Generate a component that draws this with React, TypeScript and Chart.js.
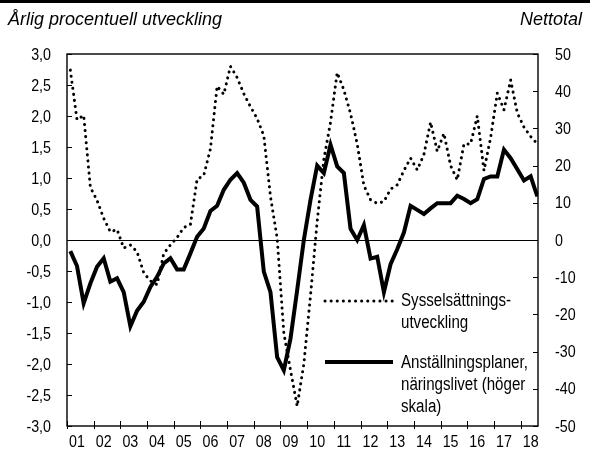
import React, { useEffect, useRef } from 'react';
import { Chart, registerables } from 'chart.js';

Chart.register(...registerables);

const yearLabels = ['01', '02', '03', '04', '05', '06', '07', '08', '09', '10', '11', '12', '13', '14', '15', '16', '17', '18'];
const firstYear = 2001;

// Sysselsättningsutveckling, årlig procentuell utveckling (vänster skala), kvartal 2001K1–2018K3
const employmentGrowth = [
  2.74, 1.94, 2.01, 0.85,
  0.64, 0.35, 0.13, 0.17,
  -0.13, -0.08, -0.19, -0.53,
  -0.66, -0.72, -0.22, -0.08,
  0.04, 0.2, 0.25, 0.98,
  1.04, 1.47, 2.48, 2.35,
  2.8, 2.62, 2.36, 2.15,
  1.96, 1.68, 0.7, 0.03,
  -1.5, -2.1, -2.68, -2.0,
  -0.9, 0.3, 1.3, 1.9,
  2.7, 2.42, 2.04, 1.55,
  0.88, 0.65, 0.59, 0.62,
  0.82, 0.89, 1.12, 1.32,
  1.13, 1.38, 1.9, 1.43,
  1.72, 1.2, 0.97, 1.55,
  1.55, 2.0, 1.12, 1.65,
  2.37, 2.1, 2.58, 2.05,
  1.82, 1.67, 1.55,
];

// Anställningsplaner, näringslivet, nettotal (höger skala)
const hiringPlans = [
  -3, -7, -17, -11.7,
  -7.2, -4.9, -11.2, -10.3,
  -14, -23.2, -19, -16.6,
  -12.6, -9.9, -6.3, -4.9,
  -7.9, -7.9, -3.6, 0.9,
  3.1, 7.8, 9.2, 13.5,
  16.2, 18, 15.4, 10.8,
  9.0, -8.5, -14, -31.5,
  -35, -26.5, -13.5, 0,
  10.8, 20, 18, 25.6,
  19.8, 18, 3, 0,
  4, -5, -4.5, -14,
  -6.5, -2.5, 2, 9.2,
  8.1, 7, 8.5, 9.9,
  9.9, 9.9, 11.9, 11,
  9.9, 11, 16.4, 17.1,
  17.1, 24.3, 22, 19,
  16, 17.1, 11.7,
];

const leftTitle = 'Årlig procentuell utveckling';
const rightTitle = 'Nettotal';
const employmentLegend = ['Sysselsättnings-', 'utveckling'];
const hiringLegend = ['Anställningsplaner,', 'näringslivet (höger', 'skala)'];

const toPoints = (vals: number[]) => vals.map((v, i) => ({ x: firstYear + 0.125 + i * 0.25, y: v }));

const SANS = '"Liberation Sans", Arial, sans-serif';
const NARROW = 0.84;

function narrowText(ctx: CanvasRenderingContext2D, s: string, x: number, y: number) {
  ctx.save();
  ctx.translate(x, y);
  ctx.scale(NARROW, 1);
  ctx.fillText(s, 0, 0);
  ctx.restore();
}

const decorPlugin = {
  id: 'decor',
  beforeDatasetsDraw(chart: any) {
    const { ctx, chartArea: a, scales } = chart;
    const y0 = scales.y.getPixelForValue(0);
    ctx.save();
    ctx.strokeStyle = '#000';
    ctx.lineWidth = 1;
    ctx.beginPath();
    ctx.moveTo(a.left, Math.round(y0) + 0.5);
    ctx.lineTo(a.right, Math.round(y0) + 0.5);
    ctx.stroke();
    ctx.restore();
  },
  afterDraw(chart: any) {
    const { ctx, chartArea: a, scales } = chart;
    ctx.save();
    ctx.fillStyle = '#000';
    ctx.fillRect(0, 0, chart.width, 3);
    // titles
    ctx.font = 'italic 18px ' + SANS;
    ctx.textBaseline = 'alphabetic';
    ctx.textAlign = 'left';
    ctx.fillText(leftTitle, 8, 25);
    ctx.textAlign = 'right';
    ctx.fillText(rightTitle, 582, 25);
    // frame
    ctx.strokeStyle = '#000';
    ctx.lineWidth = 1.4;
    ctx.strokeRect(a.left, a.top, a.right - a.left, a.bottom - a.top);
    // tick marks
    ctx.lineWidth = 1;
    ctx.beginPath();
    scales.y.ticks.forEach((t: any) => {
      const py = Math.round(scales.y.getPixelForValue(t.value)) + 0.5;
      ctx.moveTo(a.left, py);
      ctx.lineTo(a.left + 5, py);
    });
    scales.y1.ticks.forEach((t: any) => {
      const py = Math.round(scales.y1.getPixelForValue(t.value)) + 0.5;
      ctx.moveTo(a.right, py);
      ctx.lineTo(a.right - 5, py);
    });
    scales.x.ticks.forEach((t: any) => {
      const px = Math.round(scales.x.getPixelForValue(t.value)) + 0.5;
      ctx.moveTo(px, a.bottom - 5);
      ctx.lineTo(px, a.bottom + 3);
    });
    ctx.stroke();
    // tick labels
    ctx.font = '17px ' + SANS;
    ctx.textBaseline = 'middle';
    ctx.textAlign = 'right';
    scales.y.ticks.forEach((t: any) => {
      narrowText(ctx, Number(t.value).toFixed(1).replace('.', ','), a.left - 16, scales.y.getPixelForValue(t.value) + 1);
    });
    ctx.textAlign = 'left';
    scales.y1.ticks.forEach((t: any) => {
      narrowText(ctx, String(t.value), a.right + 17, scales.y1.getPixelForValue(t.value) + 1);
    });
    ctx.textAlign = 'center';
    scales.x.ticks.forEach((t: any) => {
      const lbl = yearLabels[Math.round(t.value) - firstYear];
      if (lbl) narrowText(ctx, lbl, scales.x.getPixelForValue(t.value) + 10, a.bottom + 16);
    });
    // legend
    const lx0 = a.left + 258;
    const lx1 = a.left + 326;
    const tx = a.left + 334;
    ctx.lineWidth = 3;
    ctx.lineCap = 'round';
    ctx.setLineDash([0.1, 6]);
    ctx.beginPath();
    ctx.moveTo(lx0, 301);
    ctx.lineTo(lx1, 301);
    ctx.stroke();
    ctx.setLineDash([]);
    ctx.lineWidth = 4;
    ctx.lineCap = 'butt';
    ctx.beginPath();
    ctx.moveTo(lx0, 362);
    ctx.lineTo(lx1, 362);
    ctx.stroke();
    ctx.font = '18px ' + SANS;
    ctx.textAlign = 'left';
    ctx.textBaseline = 'middle';
    employmentLegend.forEach((s, i) => narrowText(ctx, s, tx, 301 + i * 22));
    hiringLegend.forEach((s, i) => narrowText(ctx, s, tx, 363 + i * 22));
    ctx.restore();
  },
};

export default function App() {
  const ref = useRef<HTMLCanvasElement | null>(null);
  useEffect(() => {
    if (!ref.current) return;
    const chart = new Chart(ref.current, {
      type: 'line',
      data: {
        datasets: [
          {
            label: 'Sysselsättningsutveckling',
            data: toPoints(employmentGrowth),
            yAxisID: 'y',
            borderColor: '#000',
            borderWidth: 3,
            borderDash: [0.1, 6],
            borderCapStyle: 'round',
            pointRadius: 0,
            tension: 0,
            fill: false,
          },
          {
            label: 'Anställningsplaner, näringslivet (höger skala)',
            data: toPoints(hiringPlans),
            yAxisID: 'y1',
            borderColor: '#000',
            borderWidth: 4,
            borderJoinStyle: 'miter',
            pointRadius: 0,
            tension: 0,
            fill: false,
          },
        ],
      },
      options: {
        responsive: false,
        animation: false,
        layout: { padding: { top: 54, left: 0, right: 0, bottom: 0 } },
        plugins: { legend: { display: false }, tooltip: { enabled: false }, title: { display: false } },
        scales: {
          x: {
            type: 'linear',
            min: 2001,
            max: 2018.65,
            afterBuildTicks: (s: any) => {
              s.ticks = yearLabels.map((_, i) => ({ value: firstYear + i }));
            },
            afterFit: (s: any) => { s.height = 30; },
            grid: { display: false, drawTicks: false },
            border: { display: false },
            ticks: { display: false, autoSkip: false, maxRotation: 0 },
          },
          y: {
            position: 'left',
            min: -3,
            max: 3,
            afterFit: (s: any) => { s.width = 67; },
            grid: { display: false, drawTicks: false },
            border: { display: false },
            ticks: { display: false, stepSize: 0.5 },
          },
          y1: {
            position: 'right',
            min: -50,
            max: 50,
            afterFit: (s: any) => { s.width = 52; },
            grid: { display: false, drawTicks: false },
            border: { display: false },
            ticks: { display: false, stepSize: 10 },
          },
        },
      },
      plugins: [decorPlugin],
    } as any);
    return () => chart.destroy();
  }, []);
  return (
    <div style={{ position: 'absolute', left: 0, top: 0, width: 590, height: 456, background: '#fff' }}>
      <canvas ref={ref} width={590} height={456} style={{ display: 'block' }} />
    </div>
  );
}
